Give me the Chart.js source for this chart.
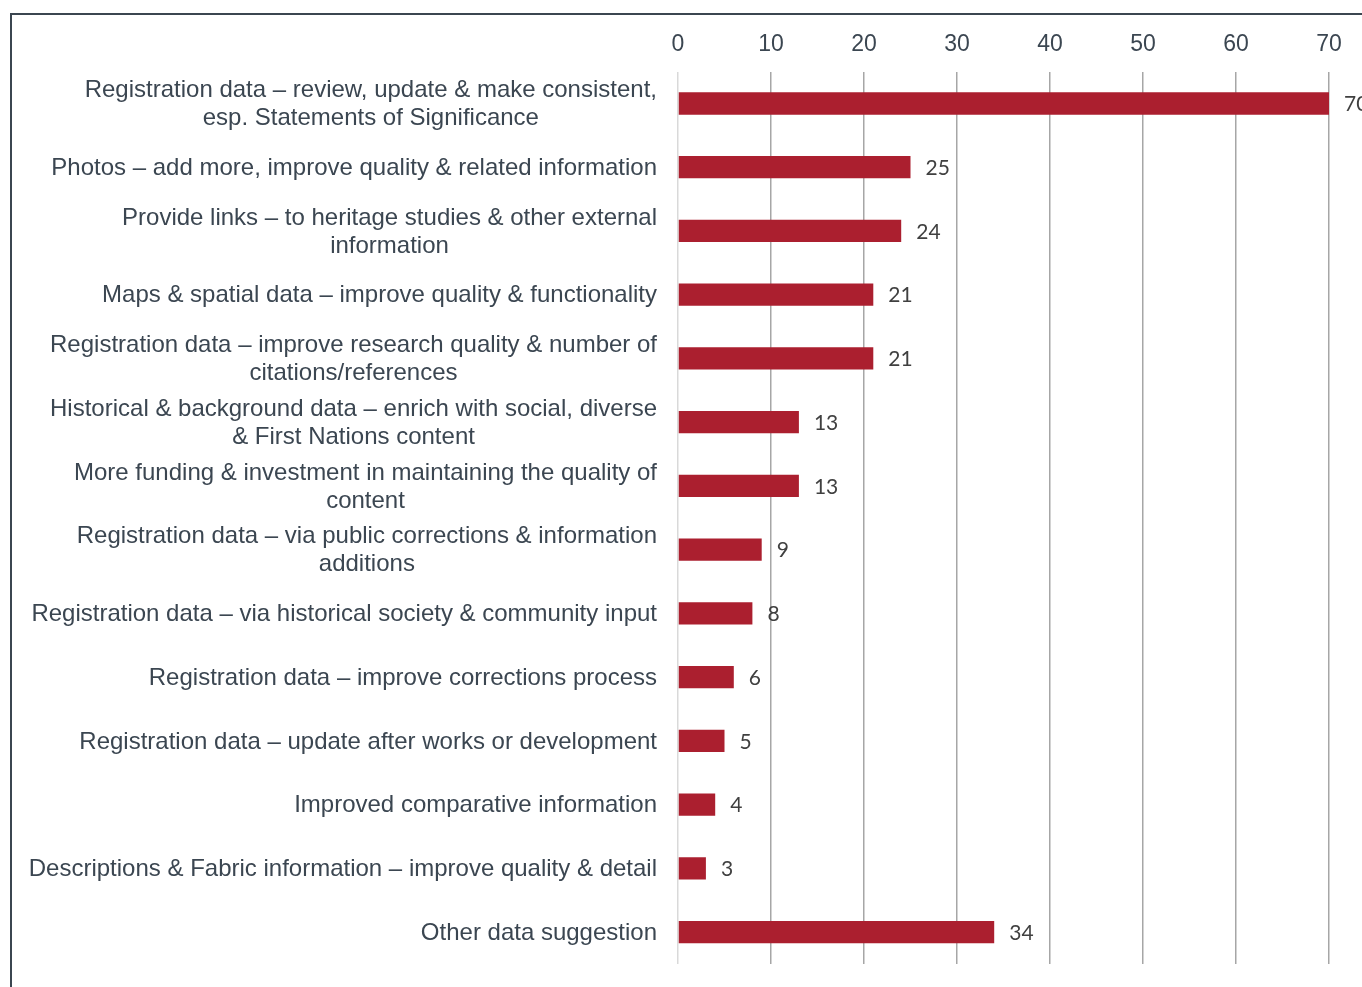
<!DOCTYPE html>
<html>
<head>
<meta charset="utf-8">
<script src="https://cdn.jsdelivr.net/npm/chart.js@4/dist/chart.umd.min.js"></script>
<style>
  html, body { margin: 0; padding: 0; background: #fff; }
  #wrap { position: relative; width: 1362px; height: 987px; }
</style>
</head>
<body>
<div id="wrap"><canvas id="chart"></canvas></div>
<script>
const categories = [
  ['Registration data – review, update & make consistent,', 'esp. Statements of Significance'],
  'Photos – add more, improve quality & related information',
  ['Provide links – to heritage studies & other external', 'information'],
  'Maps & spatial data – improve quality & functionality',
  ['Registration data – improve research quality & number of', 'citations/references'],
  ['Historical & background data – enrich with social, diverse', '& First Nations content'],
  ['More funding & investment in maintaining the quality of', 'content'],
  ['Registration data – via public corrections & information', 'additions'],
  'Registration data – via historical society & community input',
  'Registration data – improve corrections process',
  'Registration data – update after works or development',
  'Improved comparative information',
  'Descriptions & Fabric information – improve quality & detail',
  'Other data suggestion'
];
const counts = [70, 25, 24, 21, 21, 13, 13, 9, 8, 6, 5, 4, 3, 34];
const xTicks = [0, 10, 20, 30, 40, 50, 60, 70];

const textColor = '#3b4651';
const barColor = '#ab1f2f';

// frame line at top and left of the figure
const framePlugin = {
  id: 'frame',
  beforeDraw(chart) {
    const ctx = chart.ctx;
    ctx.save();
    ctx.strokeStyle = '#3b4650';
    ctx.lineWidth = 2;
    ctx.beginPath();
    ctx.moveTo(11, 987);
    ctx.lineTo(11, 14);
    ctx.lineTo(1362, 14);
    ctx.stroke();
    ctx.restore();
  }
};

// category labels: block right aligned, lines centred on each other
const catLabels = {
  id: 'catLabels',
  afterDraw(chart) {
    const ctx = chart.ctx;
    const y = chart.scales.y;
    const right = chart.chartArea.left - 21;
    ctx.save();
    ctx.font = '24px "Liberation Sans", Arial, sans-serif';
    ctx.fillStyle = textColor;
    ctx.textAlign = 'center';
    ctx.textBaseline = 'middle';
    categories.forEach((lab, i) => {
      const lines = Array.isArray(lab) ? lab : [lab];
      const w = Math.max(...lines.map(l => ctx.measureText(l).width));
      const cx = right - w / 2;
      const cy = y.getPixelForValue(i) + 1;
      lines.forEach((l, j) => {
        ctx.fillText(l, cx, cy + (j - (lines.length - 1) / 2) * 28);
      });
    });
    ctx.restore();
  }
};

// value labels after each bar
const valueLabels = {
  id: 'valueLabels',
  afterDatasetsDraw(chart) {
    const ctx = chart.ctx;
    const meta = chart.getDatasetMeta(0);
    ctx.save();
    ctx.font = '21px Lato, "Open Sans", sans-serif';
    ctx.fillStyle = '#404040';
    ctx.textAlign = 'left';
    ctx.textBaseline = 'middle';
    meta.data.forEach((bar, i) => {
      ctx.fillText(String(counts[i]), bar.x + 15, bar.y + 1);
    });
    ctx.restore();
  }
};

new Chart(document.getElementById('chart'), {
  type: 'bar',
  data: {
    labels: categories,
    datasets: [{
      data: counts,
      backgroundColor: barColor,
      borderWidth: 0,
      categoryPercentage: 1,
      barPercentage: 0.35
    }]
  },
  options: {
    indexAxis: 'y',
    responsive: true,
    maintainAspectRatio: false,
    animation: false,
    layout: { padding: { left: 0, right: 33, top: 18, bottom: 23 } },
    plugins: {
      legend: { display: false },
      tooltip: { enabled: false }
    },
    scales: {
      x: {
        position: 'top',
        min: 0,
        max: 70,
        afterBuildTicks(scale) {
          scale.ticks = xTicks.map(v => ({ value: v }));
        },
        ticks: {
          padding: 13,
          color: textColor,
          font: { family: '"Liberation Sans", Arial, sans-serif', size: 23 }
        },
        grid: {
          drawTicks: false,
          lineWidth: 1.5,
          color: ctx => ctx.index === 0 ? '#d9d9d9' : '#a6a6a6'
        },
        border: { display: false }
      },
      y: {
        ticks: { display: false },
        grid: { display: false },
        border: { display: false },
        afterFit(scale) { scale.width = 678; }
      }
    }
  },
  plugins: [framePlugin, catLabels, valueLabels]
});
</script>
</body>
</html>
